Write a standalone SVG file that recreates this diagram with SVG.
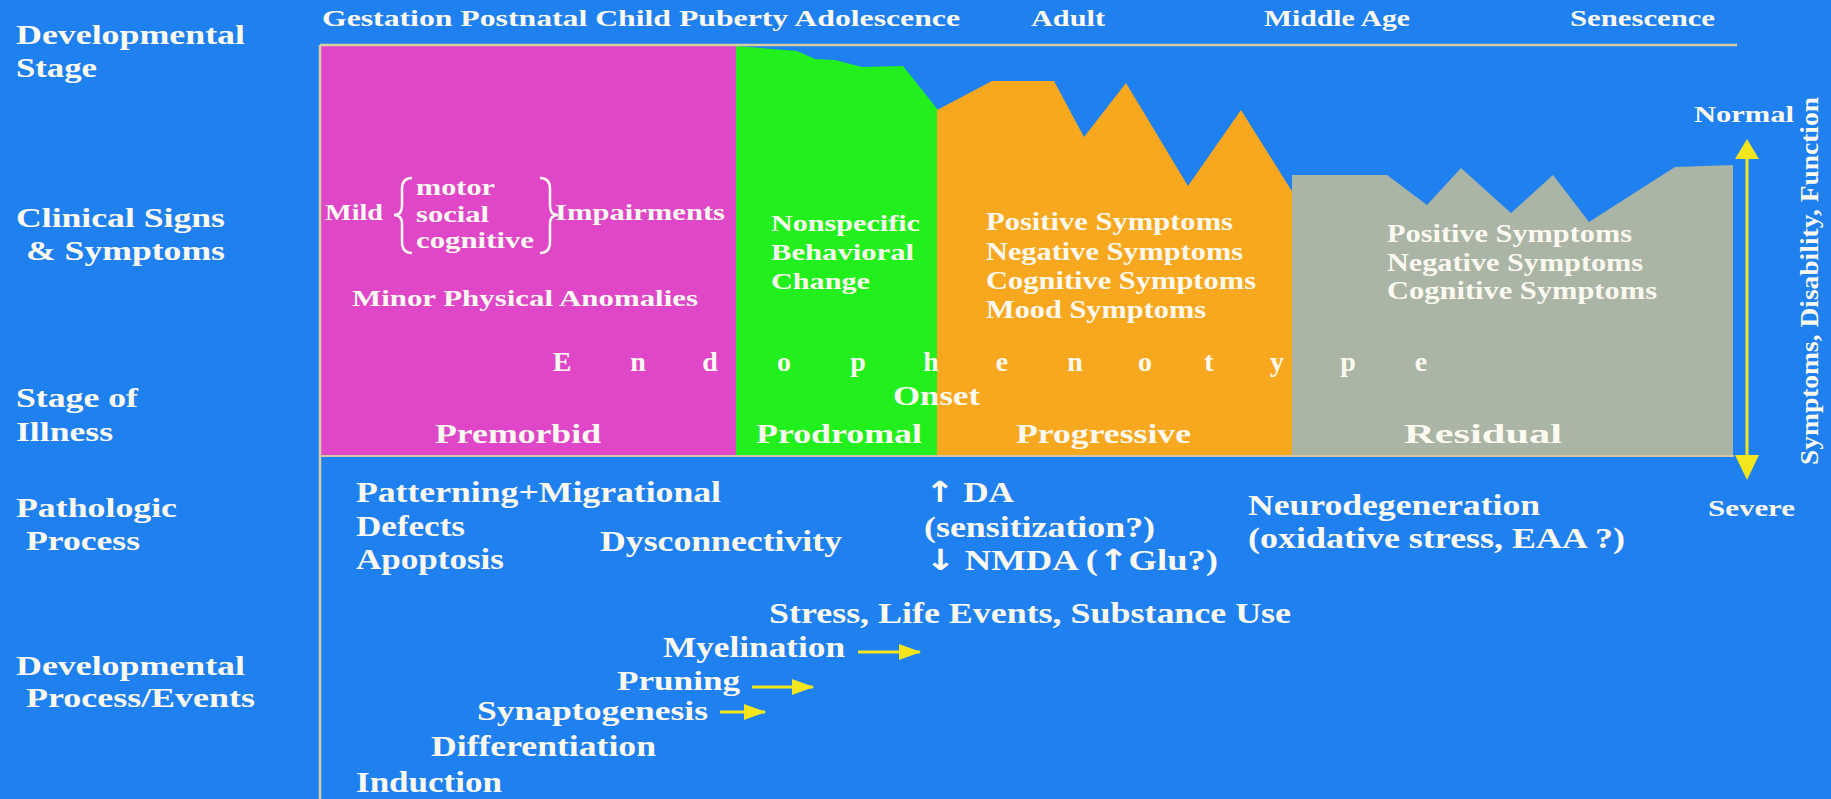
<svg xmlns="http://www.w3.org/2000/svg" width="1831" height="799" viewBox="0 0 1831 799">
<style>
.t{font-family:"Liberation Serif","Times New Roman",serif;font-weight:bold;fill:#FBF9F0}
.s22{font-size:22px}.s24{font-size:24px}.s25{font-size:25px}.s27{font-size:27px}.s28{font-size:28px}.s29{font-size:29px}
.arr{font-family:"DejaVu Sans",sans-serif;font-weight:bold}
.frame{stroke:#D6CFA0;stroke-width:2.5;fill:none}
.ya{stroke:#F4E61C;stroke-width:3;fill:none}
</style>
<defs>
<marker id="ah" markerUnits="userSpaceOnUse" markerWidth="22" markerHeight="16" refX="21" refY="8" orient="auto">
<path d="M0,0 L22,8 L0,16 Z" fill="#F4E61C"/>
</marker>
</defs>
<rect width="1831" height="799" fill="#1F80F0"/>

<g id="stage-areas">
<rect id="premorbid-area" x="321" y="46" width="416" height="410" fill="#E046C8"/>
<polygon id="prodromal-area" points="736,46 797,51 815,59 835,60 862,67 903,66 938,110 938,456 736,456" fill="#22F01C"/>
<polygon id="progressive-area" points="937,110 992,81 1054,81 1084,137 1126,83 1188,186 1241,110 1293,193 1293,456 937,456" fill="#F8A81E"/>
<polygon id="residual-area" points="1292,175 1387,175 1427,205 1461,168 1511,213 1553,175 1589,222 1675,167 1733,165 1733,456 1292,456" fill="#AAB5A6"/>
</g>

<g id="frame">
<line class="frame" x1="320" y1="45" x2="1737" y2="45"/>
<line class="frame" x1="320" y1="45" x2="320" y2="799"/>
<line x1="320" y1="456" x2="1734" y2="456" stroke="#CFC7A6" stroke-width="2"/>
</g>

<g id="row-labels" class="t s28">
<text x="16" y="44" textLength="229" lengthAdjust="spacingAndGlyphs">Developmental</text>
<text x="16" y="77" textLength="81" lengthAdjust="spacingAndGlyphs">Stage</text>
<text x="16" y="227" textLength="209" lengthAdjust="spacingAndGlyphs">Clinical Signs</text>
<text x="26" y="260" textLength="199" lengthAdjust="spacingAndGlyphs">&amp; Symptoms</text>
<text x="16" y="407" textLength="122" lengthAdjust="spacingAndGlyphs">Stage of</text>
<text x="16" y="441" textLength="97" lengthAdjust="spacingAndGlyphs">Illness</text>
<text x="16" y="517" textLength="161" lengthAdjust="spacingAndGlyphs">Pathologic</text>
<text x="26" y="550" textLength="114" lengthAdjust="spacingAndGlyphs">Process</text>
<text x="16" y="675" textLength="229" lengthAdjust="spacingAndGlyphs">Developmental</text>
<text x="26" y="707" textLength="229" lengthAdjust="spacingAndGlyphs">Process/Events</text>
</g>

<g id="developmental-stages" class="t s24">
<text x="322" y="26" textLength="638" lengthAdjust="spacingAndGlyphs">Gestation Postnatal Child Puberty Adolescence</text>
<text x="1031" y="26" textLength="74" lengthAdjust="spacingAndGlyphs">Adult</text>
<text x="1264" y="26" textLength="146" lengthAdjust="spacingAndGlyphs">Middle Age</text>
<text x="1570" y="26" textLength="145" lengthAdjust="spacingAndGlyphs">Senescence</text>
</g>

<g id="premorbid" class="t s24">
<text x="325" y="220" textLength="58" lengthAdjust="spacingAndGlyphs">Mild</text>
<path d="M412,178 Q402,178 402,189 L402,206 Q402,215 394,215 Q402,215 402,224 L402,242 Q402,253 412,253" stroke="#FBF9F0" stroke-width="2.5" fill="none"/>
<text x="416" y="195" textLength="79" lengthAdjust="spacingAndGlyphs">motor</text>
<text x="416" y="222" textLength="73" lengthAdjust="spacingAndGlyphs">social</text>
<text x="416" y="248" textLength="118" lengthAdjust="spacingAndGlyphs">cognitive</text>
<path d="M540,178 Q550,178 550,189 L550,206 Q550,215 558,215 Q550,215 550,224 L550,242 Q550,253 540,253" stroke="#FBF9F0" stroke-width="2.5" fill="none"/>
<text x="555" y="220" textLength="170" lengthAdjust="spacingAndGlyphs">Impairments</text>
<text x="352" y="306" textLength="346" lengthAdjust="spacingAndGlyphs">Minor Physical Anomalies</text>
<text class="s27" x="435" y="443" textLength="166" lengthAdjust="spacingAndGlyphs">Premorbid</text>
</g>

<g id="prodromal" class="t s24">
<text x="771" y="231" textLength="149" lengthAdjust="spacingAndGlyphs">Nonspecific</text>
<text x="771" y="260" textLength="143" lengthAdjust="spacingAndGlyphs">Behavioral</text>
<text x="771" y="289" textLength="99" lengthAdjust="spacingAndGlyphs">Change</text>
<text class="s27" x="756" y="443" textLength="166" lengthAdjust="spacingAndGlyphs">Prodromal</text>
</g>

<g id="progressive" class="t s25">
<text x="986" y="230" textLength="247" lengthAdjust="spacingAndGlyphs">Positive Symptoms</text>
<text x="986" y="260" textLength="257" lengthAdjust="spacingAndGlyphs">Negative Symptoms</text>
<text x="986" y="289" textLength="270" lengthAdjust="spacingAndGlyphs">Cognitive Symptoms</text>
<text x="986" y="318" textLength="220" lengthAdjust="spacingAndGlyphs">Mood Symptoms</text>
<text class="s27" x="893" y="405" textLength="87" lengthAdjust="spacingAndGlyphs">Onset</text>
<text class="s27" x="1016" y="443" textLength="175" lengthAdjust="spacingAndGlyphs">Progressive</text>
</g>

<g id="residual" class="t s25">
<text x="1387" y="242" textLength="245" lengthAdjust="spacingAndGlyphs">Positive Symptoms</text>
<text x="1387" y="271" textLength="256" lengthAdjust="spacingAndGlyphs">Negative Symptoms</text>
<text x="1387" y="299" textLength="270" lengthAdjust="spacingAndGlyphs">Cognitive Symptoms</text>
<text class="s27" x="1404" y="443" textLength="158" lengthAdjust="spacingAndGlyphs">Residual</text>
</g>

<g id="endophenotype">
<text class="t s28" x="562 638 710 784 858 931 1002 1075 1145 1209 1277 1348 1421" y="371" text-anchor="middle">Endophenotype</text>
</g>

<g id="pathologic" class="t s29">
<text x="356" y="502" textLength="365" lengthAdjust="spacingAndGlyphs">Patterning+Migrational</text>
<text x="356" y="536" textLength="109" lengthAdjust="spacingAndGlyphs">Defects</text>
<text x="356" y="569" textLength="148" lengthAdjust="spacingAndGlyphs">Apoptosis</text>
<text x="600" y="551" textLength="242" lengthAdjust="spacingAndGlyphs">Dysconnectivity</text>
<text x="925" y="502" textLength="89" lengthAdjust="spacingAndGlyphs"><tspan class="arr">↑</tspan> DA</text>
<text x="924" y="537" textLength="231" lengthAdjust="spacingAndGlyphs">(sensitization?)</text>
<text x="925" y="570" textLength="293" lengthAdjust="spacingAndGlyphs"><tspan class="arr">↓</tspan> NMDA (<tspan class="arr">↑</tspan>Glu?)</text>
<text x="1248" y="515" textLength="292" lengthAdjust="spacingAndGlyphs">Neurodegeneration</text>
<text x="1248" y="548" textLength="377" lengthAdjust="spacingAndGlyphs">(oxidative stress, EAA ?)</text>
</g>

<g id="developmental-events" class="t s29">
<text x="769" y="623" textLength="522" lengthAdjust="spacingAndGlyphs">Stress, Life Events, Substance Use</text>
<text x="663" y="657" textLength="182" lengthAdjust="spacingAndGlyphs">Myelination</text>
<text class="s27" x="617" y="690" textLength="123" lengthAdjust="spacingAndGlyphs">Pruning</text>
<text class="s27" x="477" y="720" textLength="231" lengthAdjust="spacingAndGlyphs">Synaptogenesis</text>
<text x="431" y="756" textLength="225" lengthAdjust="spacingAndGlyphs">Differentiation</text>
<text x="356" y="792" textLength="146" lengthAdjust="spacingAndGlyphs">Induction</text>
</g>

<g id="connectors">
<line class="ya" x1="858" y1="652" x2="920" y2="652" marker-end="url(#ah)"/>
<line class="ya" x1="752" y1="687" x2="813" y2="687" marker-end="url(#ah)"/>
<line class="ya" x1="720" y1="712" x2="765" y2="712" marker-end="url(#ah)"/>
<line x1="1747" y1="152" x2="1747" y2="467" stroke="#F4E61C" stroke-width="3"/>
<polygon points="1747,139 1735,159 1759,159" fill="#F4E61C"/>
<polygon points="1747,480 1735,455 1759,455" fill="#F4E61C"/>
</g>

<g id="scale" class="t s24">
<text x="1694" y="122" textLength="100" lengthAdjust="spacingAndGlyphs">Normal</text>
<text x="1708" y="516" textLength="87" lengthAdjust="spacingAndGlyphs">Severe</text>
<text class="s25" transform="translate(1818,281) rotate(-90)" text-anchor="middle" textLength="368" lengthAdjust="spacingAndGlyphs">Symptoms, Disability, Function</text>
</g>
</svg>
